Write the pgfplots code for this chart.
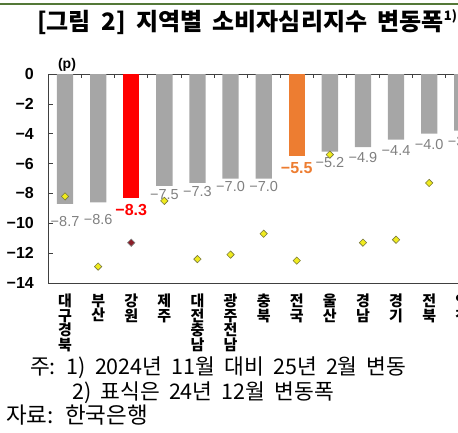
\documentclass[border=0pt]{standalone}
\usepackage{pgfplots}
\pgfplotsset{compat=1.18}
\usepackage{fontspec}
\setmainfont{Liberation Sans}
\newfontfamily\kr{Noto Sans CJK KR}
\newfontfamily\krtitle{Noto Sans CJK KR}[WordSpace=2.6]
\newfontfamily\krnote{Noto Sans CJK KR}[WordSpace=1.9]

\definecolor{bargray}{RGB}{166,166,166}
\definecolor{labgray}{RGB}{128,128,128}
\definecolor{hlred}{RGB}{255,0,0}
\definecolor{hlorange}{RGB}{237,125,49}
\definecolor{diafill}{RGB}{240,235,30}
\definecolor{diaedge}{RGB}{120,120,60}
\definecolor{diared}{RGB}{140,30,40}
\definecolor{topgreen}{RGB}{84,120,56}

% value labels under the bar ends, printed from the bar's own value
\pgfplotsset{
  vallab/.style={
    visualization depends on={-y \as \absy},
    nodes near coords={−\pgfmathprintnumber[fixed,fixed zerofill,precision=1,assume math mode=true]{\absy}},
    every node near coord/.append style={anchor=north, inner sep=0pt, yshift=-#1},
  },
  regbar/.style={ybar, bar width=16.3pt, bar shift=0pt, draw=none},
}

\begin{document}
\begin{tikzpicture}[x=1pt,y=1pt]
\useasboundingbox (0,0) rectangle (458,432);
\clip (0,0) rectangle (458,432);

\fill[topgreen] (0,427) rectangle (458,429.4);
\node[anchor=west, inner sep=0pt, font=\krtitle\bfseries\fontsize{24}{24}\selectfont]
  at (37,409.5) {[그림 2] 지역별 소비자심리지수 변동폭\raisebox{0.42em}{\fontsize{13}{13}\selectfont 1)}};

\node[font=\bfseries\fontsize{14}{14}\selectfont, inner sep=0pt] at (67,367) {(p)};

\begin{axis}[
  at={(48.5pt,149pt)}, anchor=south west,
  scale only axis, width=430.3pt, height=209pt,
  xmin=-0.5, xmax=12.5, ymin=-14, ymax=0,
  axis line style={draw=black!75, line width=0.8pt},
  clip=false,
  ytick={-14,-12,-10,-8,-6,-4,-2,0},
  yticklabels={−14,−12,−10,−8,−6,−4,−2,0},
  ytick pos=left,
  tick align=inside,
  major tick length=4pt, minor tick length=4pt,
  tick style={draw=black!75, line width=0.7pt},
  yticklabel style={font=\bfseries\fontsize{16}{16}\selectfont, anchor=east, inner sep=0pt, xshift=-14.5pt},
  xtick={0,...,12},
  xticklabels={{대\\구\\경\\북},{부\\산},{강\\원},{제\\주},{대\\전\\충\\남},{광\\주\\전\\남},{충\\북},{전\\국},{울\\산},{경\\남},{경\\기},{전\\북},{인\\천}},
  minor xtick={-0.5,0.5,...,12.5},
  major x tick style={draw=none},
  xtick pos=right, xticklabel pos=left,
  xticklabel style={font=\kr\bfseries\fontsize{15}{14.5}\selectfont, align=center, anchor=north, inner sep=0pt, yshift=-11pt},
]
% regional changes (gray bars)
\addplot[regbar, fill=bargray, vallab=12pt,
  every node near coord/.append style={font=\fontsize{14.5}{14.5}\selectfont, text=labgray}]
  coordinates {(0,-8.7) (1,-8.6)};
\addplot[regbar, fill=bargray, vallab=3pt,
  every node near coord/.append style={font=\fontsize{14.5}{14.5}\selectfont, text=labgray}]
  coordinates {(3,-7.5) (4,-7.3) (5,-7.0) (6,-7.0)};
\addplot[regbar, fill=bargray, vallab=5.5pt,
  every node near coord/.append style={font=\fontsize{14.5}{14.5}\selectfont, text=labgray}]
  coordinates {(8,-5.2) (9,-4.9) (10,-4.4) (11,-4.0) (12,-3.8)};
% Gangwon
\addplot[regbar, fill=hlred, vallab=6pt,
  every node near coord/.append style={font=\bfseries\fontsize{16}{16}\selectfont, text=hlred}]
  coordinates {(2,-8.3)};
% nationwide
\addplot[regbar, fill=hlorange, vallab=6.5pt,
  every node near coord/.append style={font=\bfseries\fontsize{16}{16}\selectfont, text=hlorange}]
  coordinates {(7,-5.5)};

% December 2024 changes (markers)
\addplot[only marks, mark=square*, mark size=2.6pt,
  mark options={rotate=45, fill=diafill, draw=diaedge, line width=0.6pt}]
  coordinates {(0,-8.2) (1,-12.9) (3,-8.5) (4,-12.4) (5,-12.1) (6,-10.7)
               (7,-12.5) (8,-5.4) (9,-11.3) (10,-11.1) (11,-7.3) (12,-9.8)};
\addplot[only marks, mark=square*, mark size=2.6pt,
  mark options={rotate=45, fill=diared, draw=black!50, line width=0.6pt}]
  coordinates {(2,-11.3)};
\end{axis}

\node[anchor=west, inner sep=0pt, font=\krnote\fontsize{21.5}{21.5}\selectfont] at (30,64) {주: 1) 2024년 11월 대비 25년 2월 변동};
\node[anchor=west, inner sep=0pt, font=\krnote\fontsize{21.5}{21.5}\selectfont] at (72,39) {2) 표식은 24년 12월 변동폭};
\node[anchor=west, inner sep=0pt, font=\krnote\fontsize{22.5}{22.5}\selectfont] at (6,17) {자료: 한국은행};
\end{tikzpicture}
\end{document}
